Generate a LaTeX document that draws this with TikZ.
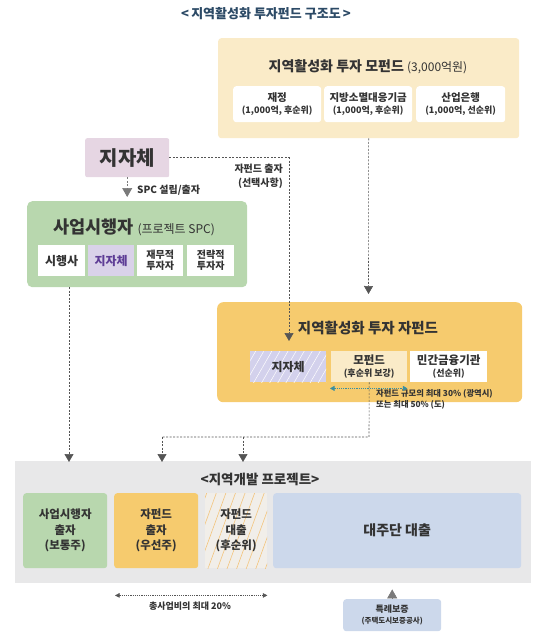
\documentclass[tikz,border=0pt]{standalone}
\usepackage{fontspec}
\setmainfont{Noto Sans CJK KR}
\usetikzlibrary{arrows.meta,patterns.meta,calc}
\definecolor{txt}{HTML}{333333}
\definecolor{titlec}{HTML}{2C4A66}
\definecolor{cream}{HTML}{FAEBC8}
\definecolor{pinkb}{HTML}{E6D6E3}
\definecolor{greenb}{HTML}{B8D7AE}
\definecolor{lav}{HTML}{D9D2E9}
\definecolor{lavh}{HTML}{D3D1EC}
\definecolor{purp}{HTML}{5E3D96}
\definecolor{gold}{HTML}{F6CB6E}
\definecolor{projg}{HTML}{E8E8E9}
\definecolor{blueb}{HTML}{CCD8EB}
\definecolor{hatchbg}{HTML}{F1EEE9}
\definecolor{hatchor}{HTML}{F3C47C}
\definecolor{teal}{HTML}{3A8FA0}
\definecolor{lineg}{HTML}{555555}
\definecolor{arrg}{HTML}{7A7A7A}
\newcommand\fsz[2]{\fontsize{#1}{#2}\selectfont}
\begin{document}
\begin{tikzpicture}[x=1pt,y=-1pt,
  box/.style={rectangle, rounded corners=3pt, inner sep=0pt, anchor=north west, align=center, text=txt},
  lbl/.style={inner sep=0pt, text=txt, align=center},
  dline/.style={draw=lineg, line width=0.6pt, dash pattern=on 2pt off 1.5pt},
  bigtip/.style={-{Triangle[width=9pt,length=8pt]}},
  gline/.style={draw=arrg, line width=0.7pt, dash pattern=on 2pt off 1.5pt, -{Triangle[width=10pt,length=9pt]}, arrg},
  rangeb/.style={draw=lineg, line width=0.5pt, dash pattern=on 1.2pt off 1pt, {Triangle[width=4.5pt,length=4.5pt]}-{Triangle[width=4.5pt,length=4.5pt]}}
]
\useasboundingbox (0,0) rectangle (540,640);

% title
\node[lbl, font=\bfseries\fsz{13}{15}, text=titlec] (title) at (266,14) {<\,지역활성화 투자펀드 구조도\,>};

% mother fund
\node[box, fill=cream, minimum width=301pt, minimum height=100pt] (mother) at (218,38) {};
\node[lbl, font=\bfseries\fsz{14}{16}] (mtitle) at (368,67) {지역활성화 투자 모펀드 {\mdseries\fsz{12}{14}(3,000억원)}};
\node[box, fill=white, minimum width=88pt, minimum height=36pt, font=\bfseries\fsz{9}{11.5}] (m1) at (233,86) {{\fsz{10.5}{12}재정}\\(1,000억, 후순위)};
\node[box, fill=white, minimum width=88pt, minimum height=36pt, font=\bfseries\fsz{9}{11.5}] (m2) at (324,86) {{\fsz{10.5}{12}지방소멸대응기금}\\(1,000억, 후순위)};
\node[box, fill=white, minimum width=89pt, minimum height=36pt, font=\bfseries\fsz{9}{11.5}] (m3) at (416,86) {{\fsz{10.5}{12}산업은행}\\(1,000억, 선순위)};

% local government
\node[box, fill=pinkb, rounded corners=2pt, minimum width=84pt, minimum height=39pt, font=\bfseries\fsz{20}{22}] (jiza) at (85,138) {지자체};

% SPC
\node[box, fill=greenb, rounded corners=5pt, minimum width=220pt, minimum height=86pt] (spc) at (27,201) {};
\node[lbl, font=\bfseries\fsz{17.5}{19}] (spctitle) at (134,227) {사업시행자 {\mdseries\fsz{12}{14}(프로젝트 SPC)}};
\node[box, fill=white, rounded corners=0pt, minimum width=47pt, minimum height=31pt, font=\bfseries\fsz{12}{14}] (s1) at (38,245) {시행사};
\node[box, fill=lav, rounded corners=0pt, minimum width=46pt, minimum height=31pt, font=\bfseries\fsz{12}{14}, text=purp] (s2) at (88,245) {지자체};
\node[box, fill=white, rounded corners=0pt, minimum width=46pt, minimum height=31pt, font=\bfseries\fsz{10}{11}] (s3) at (137,245) {재무적\\투자자};
\node[box, fill=white, rounded corners=0pt, minimum width=47pt, minimum height=31pt, font=\bfseries\fsz{10}{11}] (s4) at (187,245) {전략적\\투자자};

% sub fund
\node[box, fill=gold, rounded corners=6pt, minimum width=305pt, minimum height=100pt] (jfund) at (217,302) {};
\node[lbl, font=\bfseries\fsz{14.5}{16}] (jtitle) at (368,328) {지역활성화 투자 자펀드};
\node[box, fill=lavh, rounded corners=0pt, minimum width=76pt, minimum height=31pt,
  postaction={pattern={Lines[angle=60,distance=7pt,line width=0.5pt]}, pattern color=white}] (j1) at (250,351) {};
\node[lbl, font=\bfseries\fsz{12}{14}] (j1t) at (j1.center) {지자체};
\node[box, fill=cream, rounded corners=0pt, minimum width=76pt, minimum height=31pt, font=\bfseries\fsz{9}{11.5}] (j2) at (331,351) {{\fsz{11.5}{13}모펀드}\\(후순위 보강)};
\node[box, fill=white, rounded corners=0pt, minimum width=77pt, minimum height=31pt, font=\bfseries\fsz{9}{11.5}] (j3) at (410,351) {{\fsz{11.5}{13}민간금융기관}\\(선순위)};
\node[lbl, anchor=north west, align=left, font=\bfseries\fsz{8.3}{11}] (note) at (376,389.5) {자펀드 규모의 최대 30\% (광역시)\\또는 최대 50\% (도)};

% project
\node[box, fill=projg, rounded corners=0pt, minimum width=516pt, minimum height=122pt] (proj) at (15,461) {};
\node[lbl, font=\bfseries\fsz{13.5}{15}] (ptitle) at (260,479) {<지역개발 프로젝트>};
\node[box, fill=greenb, minimum width=84pt, minimum height=75pt, font=\bfseries\fsz{11.5}{15.5}] (p1) at (23,493) {사업시행자\\출자\\(보통주)};
\node[box, fill=gold, minimum width=84pt, minimum height=75pt, font=\bfseries\fsz{11.5}{15.5}] (p2) at (114,493) {자펀드\\출자\\(우선주)};
\node[box, fill=hatchbg, rounded corners=0pt, minimum width=62pt, minimum height=75pt,
  postaction={pattern={Lines[angle=70,distance=9pt,line width=0.6pt]}, pattern color=hatchor}] (p3) at (205,493) {};
\node[lbl, font=\bfseries\fsz{11.5}{15.5}] (p3t) at (p3.center) {자펀드\\대출\\(후순위)};
\node[box, fill=blueb, minimum width=248pt, minimum height=75pt, font=\bfseries\fsz{14}{16}] (p4) at (273,493) {대주단 대출};

% guarantee
\node[box, fill=blueb, minimum width=98pt, minimum height=32pt, font=\bfseries\fsz{7.5}{10.5}] (guar) at (343,599) {{\fsz{9}{11}특례보증}\\(주택도시보증공사)};

% coordinates
\coordinate (mtip) at (368.5,294);
\coordinate (jtip) at (289,341);
\coordinate (sa) at (69,287);
\coordinate (sb) at (69,462);
\coordinate (ja) at (369,437);
\coordinate (jb) at (162,437);
\coordinate (jc) at (162,462);
\coordinate (jd) at (243,437);
\coordinate (je) at (243,462);

% connectors
\draw[dline, bigtip] (mother.south) -- (mtip);
\draw[dline, bigtip] (jiza.east) -| (jtip);
\node[lbl, anchor=east, align=right, font=\bfseries\fsz{10}{14}] (optl) at (283,176) {자펀드 출자\\(선택사항)};
\draw[gline, shorten >=4pt] (jiza.south) -- (jiza.south |- spc.north);
\node[lbl, anchor=west, font=\bfseries\fsz{10}{11}] (spcl) at (137,190) {SPC 설립/출자};
\draw[dline, bigtip] (sa) -- (sb);
\draw[dline] (j2.south) -- (ja) -- (jb);
\draw[dline, bigtip] (jb) -- (jc);
\draw[dline, bigtip] (jd) -- (je);
\draw[draw=teal, line width=0.6pt, dash pattern=on 1.2pt off 1pt, {Triangle[width=5pt,length=4.5pt]}-{Triangle[width=5pt,length=4.5pt]}, teal]
  ($(j2.south west)+(-1,6)$) -- ($(j2.south east)+(0,6)$);
\draw[rangeb, lineg] ($(p2.south west)+(1,27)$) -- ($(p3.south east)+(0,27)$);
\node[lbl, font=\bfseries\fsz{9}{10}] (rangel) at (190,606) {총사업비의 최대 20\%};
\draw[gline, shorten >=6pt] (guar.north) -- (guar.north |- proj.south);
\end{tikzpicture}
\end{document}
